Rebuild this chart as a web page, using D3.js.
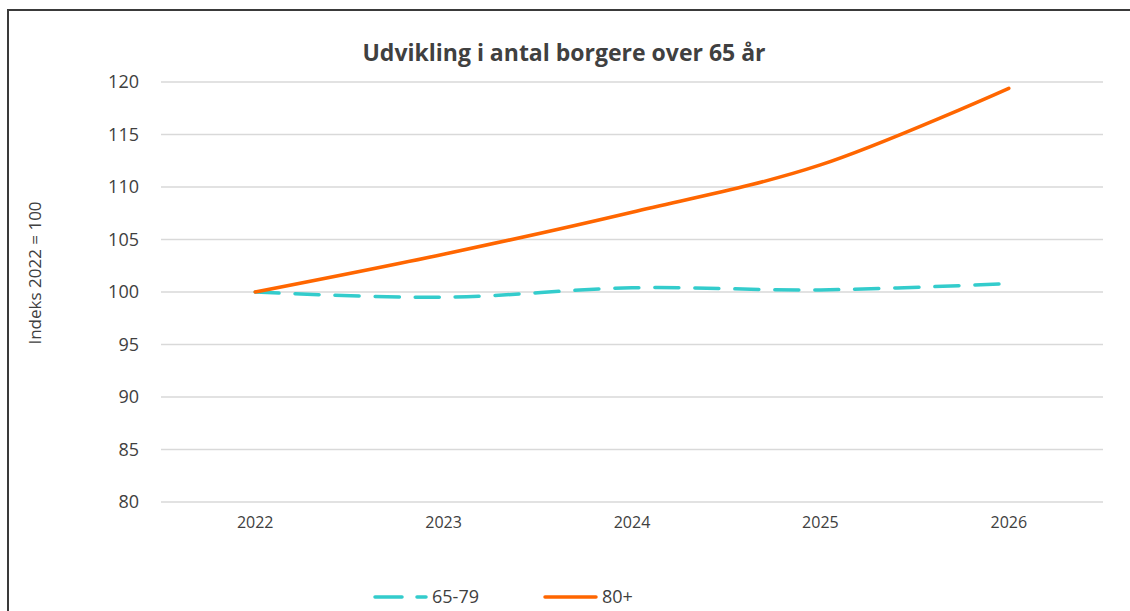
<!DOCTYPE html>
<html>
<head>
<meta charset="utf-8">
<script src="https://cdn.jsdelivr.net/npm/d3@7"></script>
<style>
  body { margin: 0; background: #fff; }
  text { font-family: "Open Sans", sans-serif; fill: #404040; }
</style>
</head>
<body>
<script>
// data
var years = ["2022", "2023", "2024", "2025", "2026"];
var seriesNames = ["65-79", "80+"];
var vals6579 = [100, 99.5, 100.4, 100.2, 100.8];
var vals80 = [100, 103.6, 107.6, 112.1, 119.4];
var yTicks = [80, 85, 90, 95, 100, 105, 110, 115, 120];
var colors = ["#33CCCC", "#FF6600"];

var screen = {width: 1130, height: 611}
var plot = {left: 161, right: 1103, top: 82, bottom: 502}

var svg = d3.select("body")
            .append("svg")
            .attr("width", screen.width)
            .attr("height", screen.height);

// frame (only left and top edges are visible in the picture)
svg.append("path")
   .attr("d", "M8,611 L8,10 L1130,10")
   .attr("fill", "none")
   .attr("stroke", "#3a3a3a")
   .attr("stroke-width", 2);

var x = d3.scaleBand()
          .domain(years)
          .range([plot.left, plot.right]);

var y = d3.scaleLinear()
          .domain([80, 120])
          .range([plot.bottom, plot.top]);

// gridlines
svg.append("g")
   .selectAll("line")
   .data(yTicks)
   .enter()
   .append("line")
   .attr("x1", plot.left)
   .attr("x2", plot.right)
   .attr("y1", function(d) { return y(d); })
   .attr("y2", function(d) { return y(d); })
   .attr("stroke", "#d9d9d9")
   .attr("stroke-width", 1.3);

// y axis labels
var yAxis = d3.axisLeft(y).tickValues(yTicks).tickSize(0).tickPadding(22);
var gy = svg.append("g")
   .attr("transform", "translate(" + plot.left + ",0)")
   .call(yAxis);
gy.select(".domain").remove();
gy.selectAll("text")
  .style("font-size", "18px")
  .attr("fill", "#404040");

// x axis labels
var xAxis = d3.axisBottom(x).tickSize(0).tickPadding(15);
var gx = svg.append("g")
   .attr("transform", "translate(0," + plot.bottom + ")")
   .call(xAxis);
gx.select(".domain").remove();
gx.selectAll("text")
  .style("font-size", "16px")
  .attr("fill", "#404040");

// title
svg.append("text")
   .attr("x", 564)
   .attr("y", 61)
   .attr("text-anchor", "middle")
   .style("font-size", "23px")
   .style("font-weight", "bold")
   .attr("fill", "#262626")
   .text("Udvikling i antal borgere over 65 år");

// y axis title
svg.append("text")
   .attr("transform", "translate(41,273) rotate(-90)")
   .attr("text-anchor", "middle")
   .style("font-size", "17px")
   .attr("fill", "#262626")
   .text("Indeks 2022 = 100");

var line = d3.line()
             .x(function(d, i) { return x(years[i]) + x.bandwidth() / 2; })
             .y(function(d) { return y(d); })
             .curve(d3.curveCatmullRom.alpha(0));

var series = [vals6579, vals80];

svg.append("g")
   .selectAll("path")
   .data(series)
   .enter()
   .append("path")
   .attr("d", function(d) { return line(d); })
   .attr("fill", "none")
   .attr("stroke", function(d, i) { return colors[i]; })
   .attr("stroke-width", 3.5)
   .attr("stroke-linecap", "round")
   .attr("stroke-dasharray", function(d, i) { return i == 0 ? "24,16" : null; });

// legend
var legendX = [373, 543];
var legend = svg.append("g")
   .selectAll("g")
   .data(seriesNames)
   .enter()
   .append("g")
   .attr("transform", function(d, i) { return "translate(" + legendX[i] + ",597)"; });

legend.append("line")
      .attr("x1", 2)
      .attr("x2", 53)
      .attr("stroke", function(d, i) { return colors[i]; })
      .attr("stroke-width", 3.5)
      .attr("stroke-linecap", "round")
      .attr("stroke-dasharray", function(d, i) { return i == 0 ? "27,15" : null; });

legend.append("text")
      .attr("x", 59)
      .attr("y", 6)
      .style("font-size", "18px")
      .attr("fill", "#404040")
      .text(function(d) { return d; });
</script>
</body>
</html>
